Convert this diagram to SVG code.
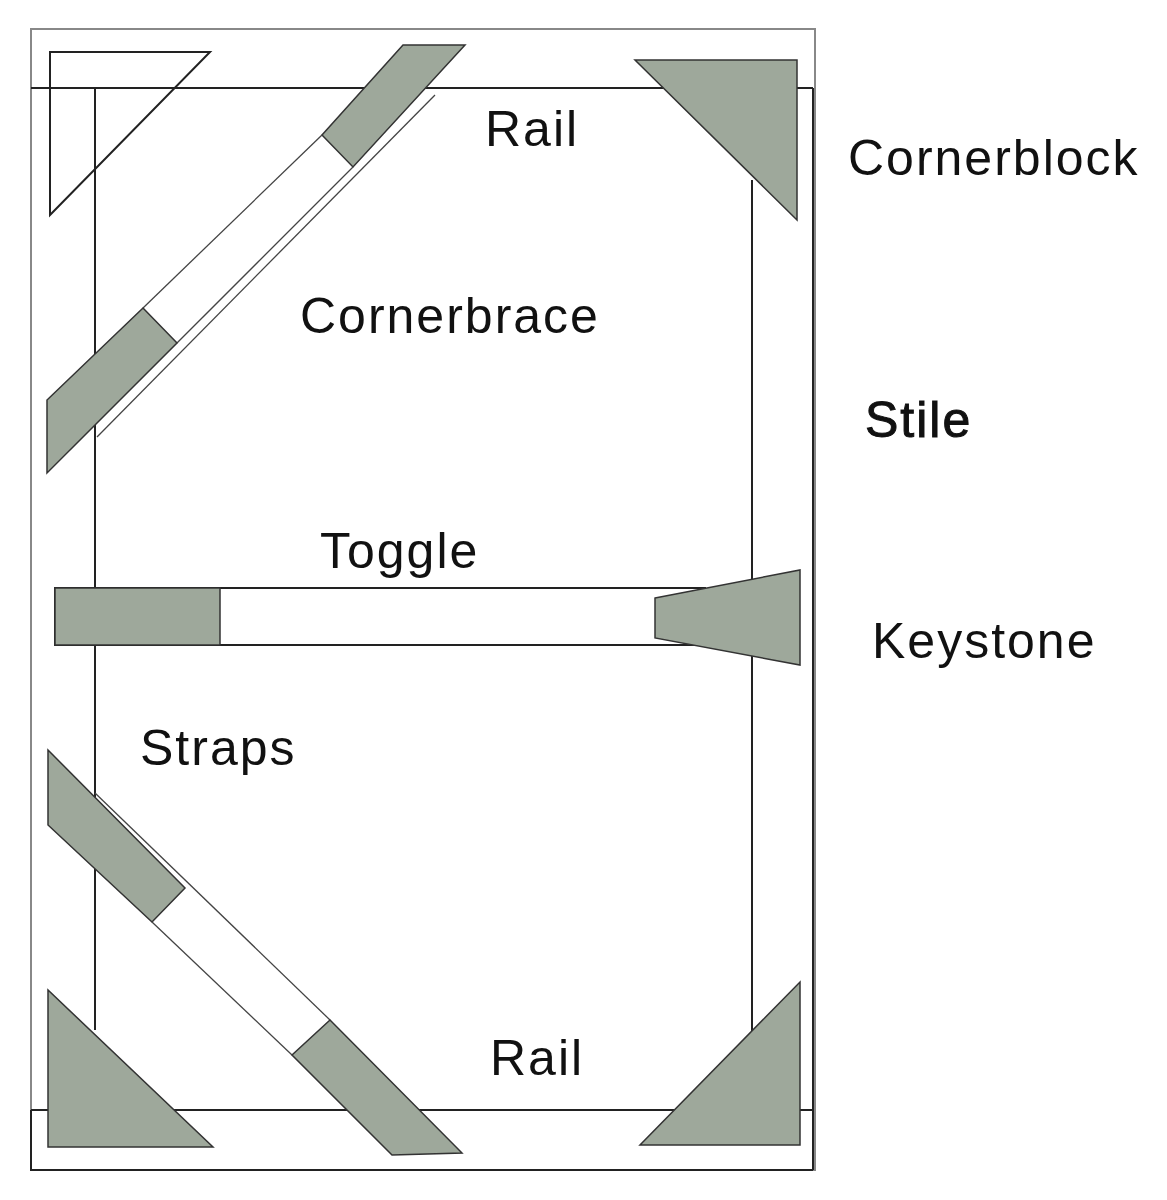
<svg xmlns="http://www.w3.org/2000/svg" width="1167" height="1200" viewBox="0 0 1167 1200">
<style>
.g{fill:#9ea89b;stroke:#333;stroke-width:1.5}
.l{fill:none;stroke:#222;stroke-width:2}
.t{fill:none;stroke:#444;stroke-width:1.3}
.o{fill:none;stroke:#888;stroke-width:2}
text{font-family:"Liberation Sans",Arial,sans-serif;font-size:50px;letter-spacing:2px;fill:#111}
</style>
<rect width="1167" height="1200" fill="#fff"/>
<g id="frame">
<rect class="o" x="31" y="29" width="784" height="1141"/>
<line class="l" x1="31" y1="88" x2="813" y2="88"/>
<line class="l" x1="95" y1="88" x2="95" y2="1030"/>
<line class="l" x1="752" y1="180" x2="752" y2="1110"/>
<line class="l" x1="813" y1="88" x2="813" y2="1170"/>
<line class="l" x1="31" y1="1110" x2="813" y2="1110"/>
<polyline class="l" points="31,1110 31,1170 813,1170"/>
</g>
<g id="cornerblock-tl"><polygon class="l" points="50,52 210,52 50,215"/></g>
<g id="cornerbrace">
<polygon class="g" points="403,45 465,45 353,167 322,135"/>
<line class="t" x1="322" y1="135" x2="143" y2="308"/>
<line class="t" x1="353" y1="167" x2="177" y2="343"/>
<line class="t" x1="435" y1="95" x2="97" y2="437"/>
<polygon class="g" points="143,308 177,343 47,473 47,400"/>
</g>
<g id="cornerblock-tr"><polygon class="g" points="635,60 797,60 797,220"/></g>
<g id="toggle">
<rect x="55" y="588" width="650" height="57" fill="#fff" stroke="#222" stroke-width="2"/>
<rect class="g" x="55" y="588" width="165" height="57"/>
<polygon class="g" points="655,598 800,570 800,665 655,638"/>
</g>
<g id="straps">
<line class="t" x1="95" y1="793" x2="330" y2="1020"/>
<polygon class="g" points="48,750 185,888 152,922 48,825"/>
<line class="t" x1="152" y1="922" x2="292" y2="1055"/>
<polygon class="g" points="330,1020 292,1055 392,1155 462,1153"/>
</g>
<g id="cornerblock-bl"><polygon class="g" points="48,990 48,1147 213,1147"/></g>
<g id="cornerblock-br"><polygon class="g" points="800,982 800,1145 640,1145"/></g>
<g id="labels">
<text x="485" y="146">Rail</text>
<text x="848" y="175">Cornerblock</text>
<text x="300" y="333">Cornerbrace</text>
<text x="865" y="437" font-size="52" stroke="#111" stroke-width="1">Stile</text>
<text x="320" y="568">Toggle</text>
<text x="872" y="658">Keystone</text>
<text x="140" y="765">Straps</text>
<text x="490" y="1075">Rail</text>
</g>
</svg>
